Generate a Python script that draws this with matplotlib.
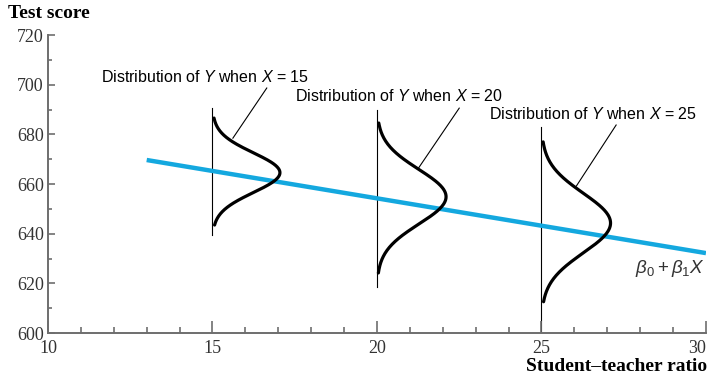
import numpy as np
import matplotlib
matplotlib.use("Agg")
import matplotlib.pyplot as plt
from matplotlib.ticker import MultipleLocator

# regression line end points (student-teacher ratio, test score)
line_x = [13.0, 30.0]
line_y = [669.7, 632.2]

# conditional distributions
dist_x = [15, 20, 25]
dist_center = [664.6, 654.9, 644.3]
dist_sd = [8.0, 11.0, 12.0]
dist_peak = [2.05, 2.1, 2.1]
dist_lo = [643.5, 624.2, 612.6]
dist_hi = [686.6, 684.6, 677.0]
vline_lo = [639.5, 618.4, 600.0]
vline_hi = [690.6, 689.8, 683.0]

# labels and their leader lines
label_text = ["Distribution of $Y$ when $X$ = 15",
              "Distribution of $Y$ when $X$ = 20",
              "Distribution of $Y$ when $X$ = 25"]
label_pos = [(11.6, 703.0), (17.5, 695.4), (23.4, 688.1)]
leader_start = [(16.65, 698.7), (22.5, 690.6), (27.27, 683.8)]
leader_end = [(15.62, 678.5), (21.26, 666.4), (26.06, 659.2)]

xticks = [10, 15, 20, 25, 30]
yticks = [600, 620, 640, 660, 680, 700, 720]

serif = "Liberation Serif"
sans = "Liberation Sans"
grey = "#6e6e6e"

plt.rcParams["mathtext.fontset"] = "custom"
plt.rcParams["mathtext.rm"] = sans
plt.rcParams["mathtext.it"] = sans + ":italic"

fig = plt.figure(figsize=(7.09, 3.78), dpi=100)
ax = fig.add_axes([0.0677, 0.119, 0.928, 0.788])

ax.plot(line_x, line_y, color="#14a8df", lw=3.2, solid_capstyle="butt", zorder=2)

for i, x0 in enumerate(dist_x):
    ax.plot([x0, x0], [vline_lo[i], vline_hi[i]], color="black", lw=0.8, zorder=1)
    yy = np.linspace(dist_lo[i], dist_hi[i], 200)
    xx = x0 + dist_peak[i] * np.exp(-0.5 * ((yy - dist_center[i]) / dist_sd[i]) ** 2)
    ax.plot(xx, yy, color="black", lw=2.3, solid_capstyle="round", zorder=3)
    ax.plot([leader_start[i][0], leader_end[i][0]],
            [leader_start[i][1], leader_end[i][1]], color="black", lw=0.8)
    ax.text(label_pos[i][0], label_pos[i][1], label_text[i], family=sans,
            fontsize=11.5, ha="left", va="center")

ax.text(29.95, 626.0, r"$\beta_0 + \beta_1 X$", fontsize=13.5, ha="right",
        va="center", color="#333333", family=serif)

ax.set_xlim(10, 30)
ax.set_ylim(600, 720)
ax.set_xticks(xticks)
ax.set_yticks(yticks)
ax.xaxis.set_minor_locator(MultipleLocator(1))
ax.yaxis.set_minor_locator(MultipleLocator(10))
ax.tick_params(axis="both", which="both", direction="in", color=grey,
               width=1.2, labelsize=13, labelcolor="#333333")
ax.tick_params(axis="x", which="major", length=9, pad=5)
ax.tick_params(axis="x", which="minor", length=4)
ax.tick_params(axis="y", which="major", length=5, pad=3)
ax.tick_params(axis="y", which="minor", length=3)
for lab in ax.get_xticklabels() + ax.get_yticklabels():
    lab.set_family(serif)
ax.get_xticklabels()[-1].set_horizontalalignment("right")

for side in ["top", "right"]:
    ax.spines[side].set_visible(False)
for side in ["left", "bottom"]:
    ax.spines[side].set_color(grey)
    ax.spines[side].set_linewidth(1.4)

fig.text(0.011, 0.963, "Test score", family=serif, fontweight="bold",
         fontsize=14, ha="left", va="center")
fig.text(0.997, 0.030, "Student\u2013teacher ratio", family=serif,
         fontweight="bold", fontsize=14, ha="right", va="center")

fig.savefig("out.png", dpi=100)
